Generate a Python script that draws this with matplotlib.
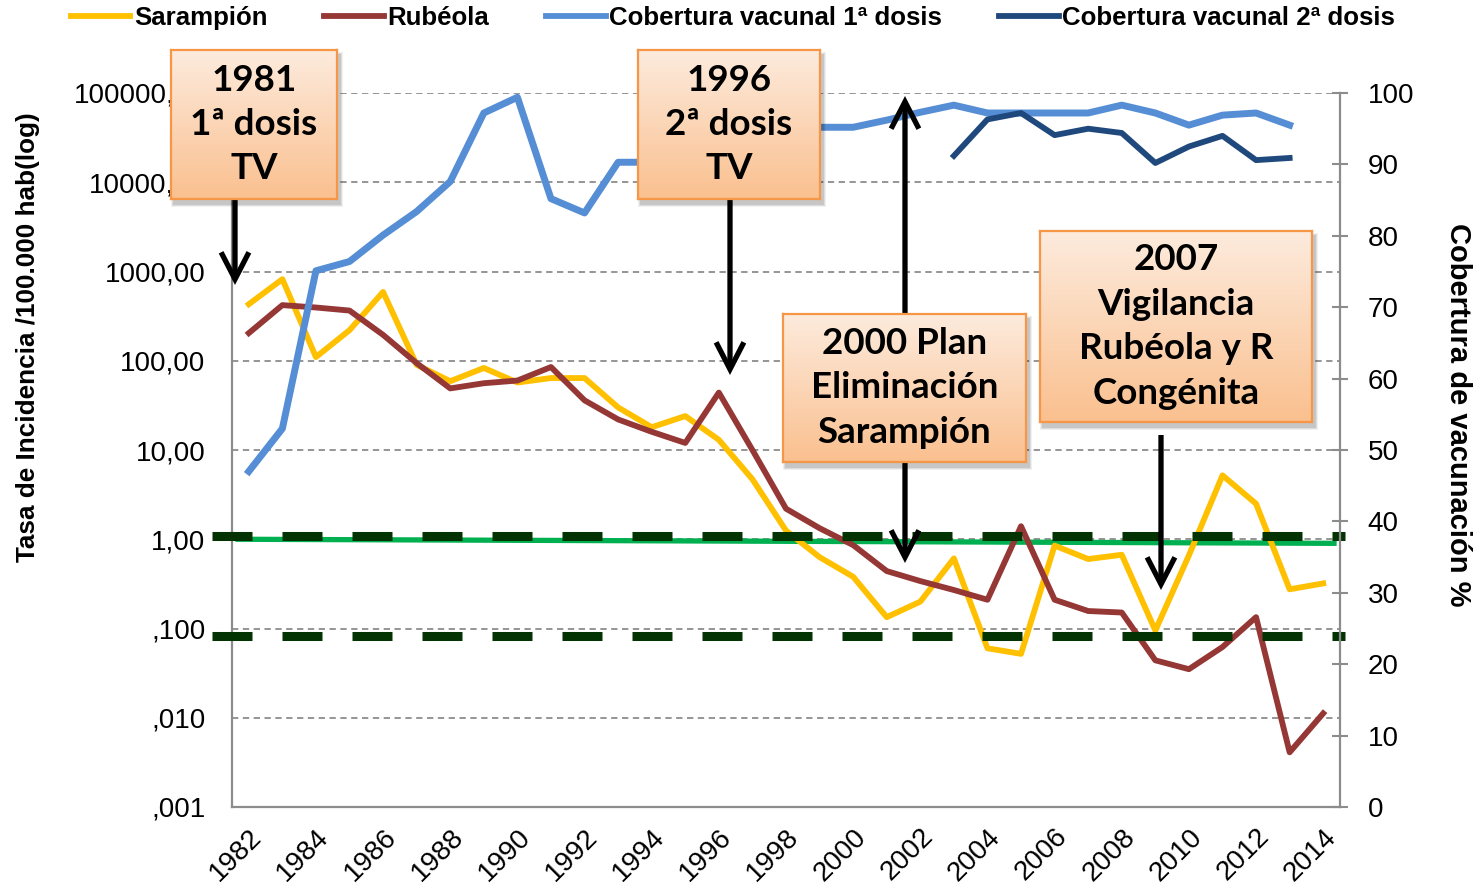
import numpy as np
import matplotlib
matplotlib.use('Agg')
import matplotlib.pyplot as plt
from matplotlib.patches import Rectangle, FancyArrowPatch
from matplotlib.lines import Line2D
from matplotlib.colors import LinearSegmentedColormap

plt.rcParams['font.family'] = ['Liberation Sans', 'DejaVu Sans']

# ---------------- data ----------------
years = list(range(1982, 2015))
sarampion = [430, 820, 110, 220, 590, 90, 59, 83, 57, 64, 64, 30, 18, 24, 13, 4.7,
             1.25, 0.63, 0.38, 0.134, 0.2, 0.61, 0.06, 0.052, 0.85, 0.6, 0.67, 0.095,
             0.66, 5.2, 2.5, 0.275, 0.32]
rubeola = [204, 420, 395, 365, 195, 94, 49, 56, 60, 85, 36, 22, 16, 12, 44, 10,
           2.2, 1.33, 0.86, 0.44, 0.34, 0.27, 0.21, 1.4, 0.21, 0.157, 0.151, 0.044,
           0.035, 0.062, 0.134, 0.0041, 0.0112]
cobertura_1 = [47.0, 53.0, 75.1, 76.4, 80.1, 83.4, 87.6, 97.2, 99.4, 85.2, 83.2, 90.3,
               90.3, 92, 93, 94, 95, 95.2, 95.2, 96.2, 97.3, 98.3, 97.2, 97.2, 97.2,
               97.2, 98.3, 97.2, 95.5, 96.9, 97.2, 95.5, np.nan]
cobertura_2 = [np.nan] * 21 + [91.2, 96.3, 97.2, 94.1, 95.0, 94.4, 90.2, 92.5, 94.0,
                                90.6, 90.9, np.nan]
objetivo_x = [1981.6, 2014.4]
objetivo_y = [1.0, 0.9]
umbral_x = [1980.9, 2014.65]
umbral_sup = [1.1, 1.1]
umbral_inf = [0.082, 0.082]

left_ticks = [0.001, 0.01, 0.1, 1, 10, 100, 1000, 10000, 100000]
left_labels = [',001', ',010', ',100', '1,00', '10,00', '100,00', '1000,00',
               '10000,00', '100000,00']
right_ticks = list(range(0, 101, 10))
xtick_years = years[::2]

series_names = ['Sarampión', 'Rubéola', 'Cobertura vacunal 1ª dosis',
                'Cobertura vacunal 2ª dosis']
colors = ['#FFC000', '#953735', '#558ED5', '#1F497D']

W, H = 1479, 890
def fx(px):
    return px / W
def fy(py):
    return 1 - py / H

fig = plt.figure(figsize=(W / 100, H / 100), dpi=100)
ax1 = fig.add_axes([fx(232), fy(807), fx(1340) - fx(232), fy(93) - fy(807)])
ax2 = ax1.twinx()

gray = '#8C8C8C'
# left axis
ax1.set_yscale('log')
ax1.set_ylim(0.001, 100000)
ax1.set_xlim(1981.5, 2014.5)
ax1.set_yticks(left_ticks)
ax1.set_yticklabels(left_labels)
ax1.yaxis.set_minor_locator(matplotlib.ticker.NullLocator())
ax1.set_xticks(xtick_years)
ax1.set_xticklabels([str(y) for y in xtick_years], rotation=45, ha='right',
                    va='top', rotation_mode='anchor')
ax1.tick_params(axis='y', length=0, pad=19, labelsize=20)
ax1.tick_params(axis='x', length=0, pad=12, labelsize=20)
ax1.yaxis.grid(True, which='major', color=gray, linestyle=(0, (3.5, 2.5)), lw=1.3)
for s in ['top', 'right']:
    ax1.spines[s].set_visible(False)
for s in ['left', 'bottom']:
    ax1.spines[s].set_color(gray)
    ax1.spines[s].set_linewidth(1.6)

ax1.plot(objetivo_x, objetivo_y, color='#00B050', lw=3.8, zorder=3, clip_on=False,
         solid_capstyle='butt')
ax1.plot(years, sarampion, color=colors[0], lw=4.2, zorder=4)
ax1.plot(years, rubeola, color=colors[1], lw=4.2, zorder=4)
dash_lw = 6.5
ax1.plot(umbral_x, umbral_sup, color='#033303', lw=dash_lw, zorder=5, clip_on=False,
         linestyle=(0, (28.8 / dash_lw, 21.6 / dash_lw)), dash_capstyle='butt')
ax1.plot(umbral_x, umbral_inf, color='#033303', lw=dash_lw, zorder=5, clip_on=False,
         linestyle=(0, (28.8 / dash_lw, 21.6 / dash_lw)), dash_capstyle='butt')

# right axis
ax2.set_ylim(0, 100)
ax2.set_yticks(right_ticks)
ax2.tick_params(axis='y', direction='inout', length=12, width=1.5, color=gray,
                pad=14, labelsize=20)
for s in ['top', 'left', 'bottom']:
    ax2.spines[s].set_visible(False)
ax2.spines['right'].set_color(gray)
ax2.spines['right'].set_linewidth(1.6)
ax2.plot(years, cobertura_1, color=colors[2], lw=5.0, zorder=4)
ax2.plot(years, cobertura_2, color=colors[3], lw=4.2, zorder=4)

# axis titles
fig.text(fx(28), fy(337), 'Tasa de Incidencia /100.000 hab(log)', rotation=90,
         ha='center', va='center', fontsize=18.8, fontweight='bold')
fig.text(fx(1458), fy(415), 'Cobertura de vacunación %', rotation=270,
         ha='center', va='center', fontsize=21, fontweight='bold')

# legend
handles = [Line2D([], [], color=c, lw=4.2) for c in colors]
fig.legend(handles, series_names, loc='center', bbox_to_anchor=(fx(733), fy(18)),
           ncol=4, frameon=False, handlelength=2.3, handletextpad=0.15,
           columnspacing=2.2, prop={'weight': 'bold', 'size': 18.6})

# arrows
def arrow(x, y0, y1, style='->'):
    a = FancyArrowPatch((fx(x), fy(y0)), (fx(x), fy(y1)), transform=fig.transFigure,
                        arrowstyle=style + ',head_length=0.97,head_width=0.5',
                        mutation_scale=20, lw=3.8, color='black', zorder=8,
                        shrinkA=0, shrinkB=0, joinstyle='miter', capstyle='butt')
    fig.patches.append(a)

arrow(235, 199, 285)
arrow(730, 199, 375)
arrow(905, 563, 96, style='<->')
arrow(1161, 435, 590)

# boxes
cmap = LinearSegmentedColormap.from_list('peach', ['#FDEBDD', '#FAC08F'])
grad = np.linspace(0, 1, 256).reshape(-1, 1)

def box(x0, y0, x1, y1, text):
    for k, a in enumerate([0.06, 0.08, 0.10]):
        e = 3 - k
        sh = Rectangle((fx(x0 + 3 - e), fy(y1 + 5 + e)), fx(x1 + 2 * e) - fx(x0),
                       fy(y0) - fy(y1 + 2 * e), transform=fig.transFigure,
                       facecolor='black', alpha=a, edgecolor='none', zorder=9)
        fig.patches.append(sh)
    bax = fig.add_axes([fx(x0), fy(y1), fx(x1) - fx(x0), fy(y0) - fy(y1)], zorder=10)
    bax.imshow(grad, aspect='auto', cmap=cmap, extent=[0, 1, 0, 1], origin='upper')
    bax.set_xticks([])
    bax.set_yticks([])
    for s in bax.spines.values():
        s.set_color('#F79646')
        s.set_linewidth(1.6)
    bax.text(0.5, 0.5, text, ha='center', va='center', fontsize=26.5,
             fontweight='bold', family=['Lato', 'DejaVu Sans'], linespacing=1.42,
             transform=bax.transAxes)

box(171, 50, 337, 199, '1981\n1ª dosis\nTV')
box(638, 50, 820, 199, '1996\n2ª dosis\nTV')
box(783, 314, 1026, 462, '2000 Plan\nEliminación\nSarampión')
box(1040, 231, 1312, 422, '2007\nVigilancia\nRubéola y R\nCongénita')

fig.savefig('out.png', dpi=100)
